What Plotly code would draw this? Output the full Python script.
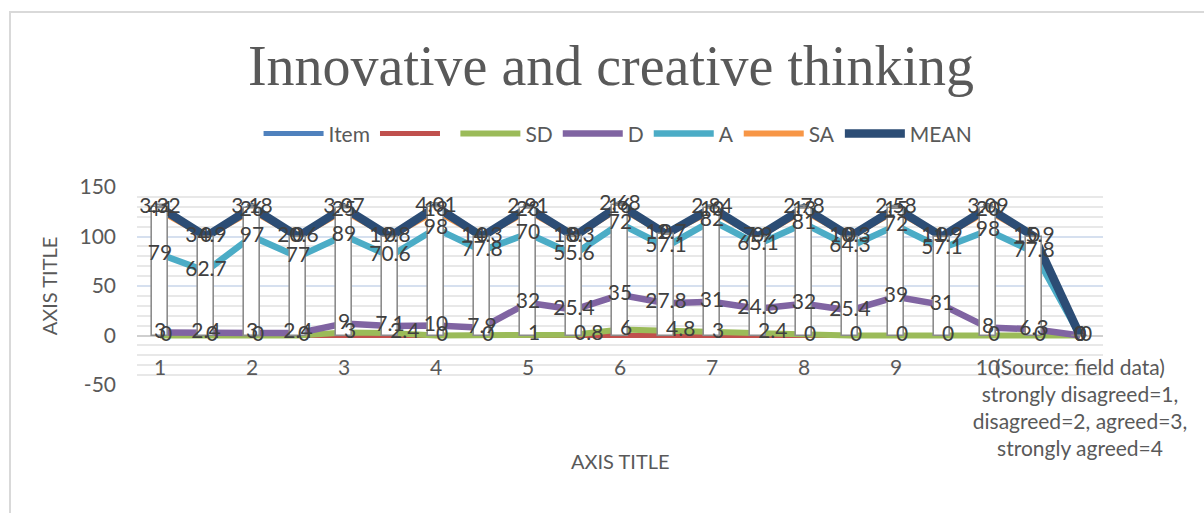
import numpy as np
import plotly.graph_objects as go

# ---------------- data ----------------
categories = ["1", "", "2", "", "3", "", "4", "", "5", "", "6", "", "7", "", "8", "", "9", "", "10", "",
              "(Source: field data)<br>strongly disagreed=1,<br>disagreed=2, agreed=3,<br>strongly agreed=4"]
positions = list(range(1, len(categories) + 1))

y_ticks = [-50, 0, 50, 100, 150]
y_tick_labels = ["-50", "0", "50", "100", "150"]

item = [0] * 21
blank = [0] * 21
sd = [0, 0, 0, 0, 3, 2.4, 0, 0, 1, 0.8, 6, 4.8, 3, 2.4, 0, 0, 0, 0, 0, 0, 0]
d = [3, 2.4, 3, 2.4, 9, 7.1, 10, 7.9, 32, 25.4, 35, 27.8, 31, 24.6, 32, 25.4, 39, 31, 8, 6.3, 0]
a = [79, 62.7, 97, 77, 89, 70.6, 98, 77.8, 70, 55.6, 72, 57.1, 82, 65.1, 81, 64.3, 72, 57.1, 98, 77.8, 0]
sa = [44, 34.9, 26, 20.6, 25, 19.8, 18, 14.3, 23, 18.3, 16, 12.7, 10, 7.9, 13, 10.3, 15, 11.9, 20, 15.9, 0]
mean = [3.32, 0, 3.18, 0, 3.07, 0, 4.01, 0, 2.91, 0, 2.68, 0, 2.84, 0, 2.78, 0, 2.58, 0, 3.09, 0, 0]

series_names = ["Item", " ", "SD", "D", "A", "SA", "MEAN"]
series_values = [item, blank, sd, d, a, sa, mean]
series_colors = ["#4F81BD", "#C0504D", "#9BBB59", "#8064A2", "#4BACC6", "#F79646", "#2C4D75"]
series_widths = [5, 5, 6, 6.5, 6.5, 6, 8.5]

TXT = "#595959"
LBL = "#404040"
FONT = "Lato, sans-serif"

def fmt(v):
    return f"{v:g}"

fig = go.Figure()

# stacked lines (main axes)
for name, vals, col, w in zip(series_names, series_values, series_colors, series_widths):
    fig.add_trace(go.Scatter(
        x=positions, y=vals, name=name, mode="lines", stackgroup="lines", fill="none",
        line=dict(color=col, width=w), hoverinfo="skip"))

# up/down bars (white boxes) on overlay axes, above the lines
totals = np.sum(np.array(series_values, dtype=float), axis=0)
fig.add_trace(go.Bar(
    x=positions, y=totals, width=0.33, xaxis="x2", yaxis="y2", showlegend=False,
    marker=dict(color="white", line=dict(color="#8c8c8c", width=1.6)),
    error_y=dict(type="data", array=mean, arrayminus=[0] * 21, symmetric=False,
                 color="#8c8c8c", thickness=1.6, width=5),
    hoverinfo="skip"))

# data labels (stacked at the same positions)
label_pos = {"SD": "middle right", "D": "middle center", "A": "middle center",
             "SA": "middle center", "MEAN": "middle center"}
for name, vals in zip(series_names, series_values):
    show = name in label_pos
    fig.add_trace(go.Scatter(
        x=positions, y=vals, mode="text" if show else "none", stackgroup="labels", fill="none",
        text=[fmt(v) for v in vals] if show else None,
        textposition=label_pos.get(name, "middle center"),
        textfont=dict(family=FONT, size=21, color=LBL),
        xaxis="x2", yaxis="y2", showlegend=False, hoverinfo="skip", cliponaxis=False))

xr = [0.5, 21.5]
yr = [-50, 150]

fig.update_layout(
    width=1204, height=513, autosize=False,
    margin=dict(l=137, r=101, t=187, b=128, autoexpand=False),
    paper_bgcolor="white", plot_bgcolor="white",
    title=dict(text="Innovative and creative thinking", x=0.4907, xref="paper",
               y=1 - 65 / 513, yref="container", xanchor="center", yanchor="middle",
               font=dict(family="Liberation Serif, serif", size=56, color=TXT)),
    legend=dict(orientation="h", x=0.498, xanchor="center", y=1.268, yanchor="middle",
                font=dict(family=FONT, size=21, color=TXT), itemwidth=60,
                bgcolor="rgba(0,0,0,0)", traceorder="normal"),
    xaxis=dict(range=xr, tickmode="array", tickvals=positions, ticktext=categories,
               anchor="free", position=50 / 200, showgrid=False, zeroline=False,
               showline=False, ticks="", ticklabelstandoff=17, tickangle=0, automargin=False,
               tickfont=dict(family=FONT, size=21, color=TXT)),
    xaxis2=dict(range=xr, overlaying="x", visible=False, anchor="y2"),
    yaxis=dict(range=yr, tickmode="array", tickvals=y_ticks, ticktext=y_tick_labels,
               showgrid=True, gridcolor="#d6e0ef", gridwidth=2,
               minor=dict(dtick=10, tick0=0, showgrid=True, gridcolor="#e8e8e8", gridwidth=1.5),
               zeroline=True, zerolinecolor="#cfcfcf", zerolinewidth=2,
               showline=False, ticks="", ticklabelstandoff=20, automargin=False,
               tickfont=dict(family=FONT, size=21, color=TXT),
               title=dict(text="AXIS TITLE", standoff=16,
                          font=dict(family=FONT, size=20, color=TXT))),
    yaxis2=dict(range=yr, overlaying="y", visible=False, anchor="x2"),
    annotations=[dict(text="AXIS TITLE", x=0.5, y=(385 - 475) / 198, xref="paper", yref="paper",
                      showarrow=False, font=dict(family=FONT, size=20, color=TXT))],
    shapes=[dict(type="rect", xref="paper", yref="paper",
                 x0=(10 - 137) / 966, x1=(1215 - 137) / 966,
                 y0=(385 - 530) / 198, y1=(385 - 12) / 198,
                 line=dict(color="#d9d9d9", width=2), fillcolor="rgba(0,0,0,0)", layer="below")],
    bargap=0,
)

fig.write_html("out.html")
